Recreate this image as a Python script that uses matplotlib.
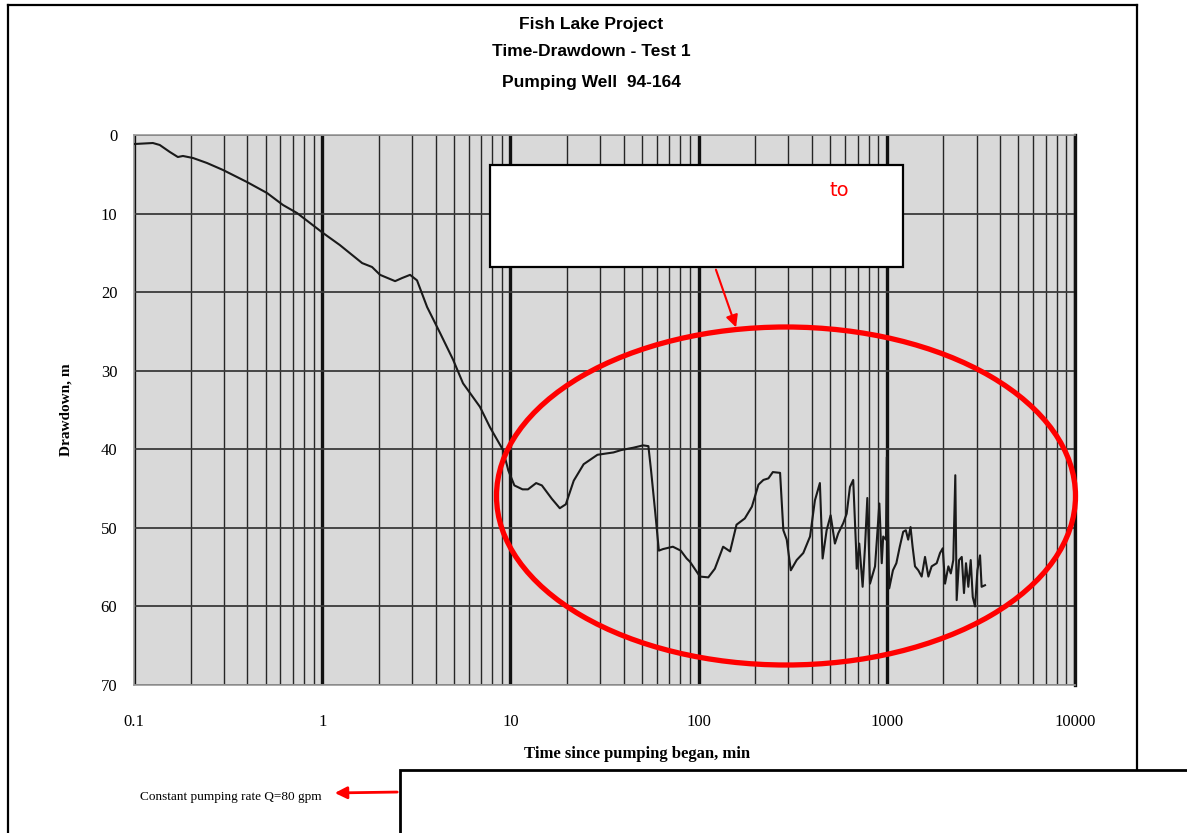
# Time-drawdown plot, Fish Lake Project, pumping well 94-164 (scanned chart with markup)

import matplotlib
matplotlib.use("Agg")
import matplotlib.pyplot as plt
from matplotlib.patches import Rectangle, Ellipse, FancyArrowPatch
from matplotlib.ticker import LogLocator, FixedLocator, NullFormatter

W, H = 1187, 833

TITLE_LINES = ["Fish Lake Project", "Time-Drawdown - Test 1", "Pumping Well  94-164"]
X_TICKS = [0.1, 1, 10, 100, 1000, 10000]
X_TICK_LABELS = ["0.1", "1", "10", "100", "1000", "10000"]
Y_TICKS = [0, 10, 20, 30, 40, 50, 60, 70]

# time since pumping began (min) and drawdown (m)
time_min = [
    0.1, 0.126, 0.137, 0.155, 0.171, 0.182, 0.206, 0.244, 0.297, 0.398,
    0.509, 0.619, 0.735, 1.01, 1.24, 1.63, 1.84, 2.03, 2.44, 2.66,
    2.93, 3.19, 3.61, 4.23, 4.96, 5.60, 6.89, 7.79, 9.14, 9.75,
    10.5, 11.6, 12.4, 13.7, 14.7, 16.6, 18.3, 19.7, 21.7, 24.5,
    29.0, 35.3, 38.8, 45.0, 50.7, 54.1, 55.9, 58.7, 61.5, 64.7,
    73.0, 80.4, 86.4, 89.9, 101.7, 112.6, 122, 135, 147, 159,
    176, 192, 208, 221, 235, 248, 271, 282, 294, 309,
    332, 360, 391, 415, 441, 456, 479, 503, 530, 552,
    587, 612, 637, 663, 686, 692, 714, 744, 766, 788,
    814, 866, 913, 940, 957, 990, 1000, 1030, 1078, 1124,
    1172, 1222, 1262, 1299, 1337, 1371, 1412, 1470, 1532, 1596,
    1663, 1731, 1841, 1918, 1983, 2039, 2124, 2188, 2256, 2312,
    2351, 2421, 2502, 2571, 2635, 2711, 2792, 2862, 2944, 3030,
    3129, 3190, 3325,
]
drawdown_m = [
    1.15, 1.02, 1.27, 2.16, 2.80, 2.67, 2.93, 3.56, 4.45, 5.98,
    7.38, 8.91, 9.93, 12.47, 14.0, 16.3, 16.8, 17.8, 18.6, 18.2,
    17.8, 18.5, 21.9, 25.2, 28.6, 31.6, 34.6, 37.2, 40.1, 42.7,
    44.6, 45.1, 45.1, 44.3, 44.6, 46.3, 47.5, 47.0, 44.0, 41.9,
    40.7, 40.4, 40.1, 39.8, 39.5, 39.6, 42.7, 47.8, 52.9, 52.7,
    52.4, 52.9, 53.9, 54.3, 56.2, 56.3, 55.2, 52.4, 53.0, 49.6,
    48.8, 47.3, 44.5, 43.9, 43.7, 42.9, 43.0, 50.3, 51.5, 55.4,
    54.1, 53.2, 51.1, 46.5, 44.3, 53.9, 50.3, 48.4, 52.0, 50.7,
    49.4, 48.2, 44.8, 43.9, 52.4, 55.2, 52.0, 57.5, 52.4, 46.2,
    57.1, 54.9, 46.9, 54.5, 51.1, 51.5, 41.0, 57.7, 55.4, 54.5,
    52.4, 50.5, 50.3, 51.5, 49.9, 52.4, 54.9, 55.4, 56.2, 53.7,
    56.2, 54.9, 54.5, 53.2, 52.6, 57.1, 54.9, 55.8, 54.1, 43.3,
    59.2, 54.1, 53.7, 58.3, 54.5, 57.5, 54.1, 58.8, 60.0, 55.4,
    53.5, 57.5, 57.3,
]

SERIF = ["Liberation Serif", "DejaVu Serif"]
SANS = ["Liberation Sans", "DejaVu Sans"]


def fx(x):
    return x / W


def fy(y):
    return 1 - y / H


fig = plt.figure(figsize=(W / 100, H / 100), dpi=100)
fig.patch.set_facecolor("white")

ax = fig.add_axes([fx(134), fy(685), fx(1075) - fx(134), fy(135) - fy(685)])
ax.set_facecolor("#d9d9d9")
ax.set_xscale("log")
ax.set_xlim(0.1, 10000)
ax.set_ylim(70, 0)

ax.xaxis.set_major_locator(FixedLocator(X_TICKS))
ax.xaxis.set_minor_locator(LogLocator(base=10, subs=range(2, 10)))
ax.xaxis.set_minor_formatter(NullFormatter())
ax.set_xticks(X_TICKS)
ax.set_xticklabels(X_TICK_LABELS, family=SERIF, fontsize=12)
ax.set_yticks(Y_TICKS)
ax.set_yticklabels([str(v) for v in Y_TICKS], family=SERIF, fontsize=12)
ax.tick_params(which="both", length=0)
ax.tick_params(axis="x", pad=21)
ax.tick_params(axis="y", pad=12)

ax.grid(True, axis="x", which="major", color="#111111", lw=2.4)
ax.grid(True, axis="x", which="minor", color="#262626", lw=1.0)
ax.grid(True, axis="y", which="major", color="#3a3a3a", lw=1.3)
for side in ["top", "bottom", "left"]:
    ax.spines[side].set_color("#999999")
    ax.spines[side].set_linewidth(1.2)
ax.spines["right"].set_color("#111111")
ax.spines["right"].set_linewidth(2.4)

ax.plot(time_min, drawdown_m, color="#1a1a1a", lw=1.5, zorder=3)

ax.set_ylabel("Drawdown, m", family=SERIF, fontsize=11, fontweight="bold",
              labelpad=20)
fig.text(fx(637), fy(754), "Time since pumping began, min", family=SERIF,
         fontsize=12, fontweight="bold", ha="center", va="center")

for i, line in enumerate(TITLE_LINES):
    fig.text(fx(591), fy([25, 52, 82][i]), line, ha="center", va="center",
             family=SANS, fontsize=12.5, fontweight="bold")

fig.text(fx(140), fy(797), "Constant pumping rate Q=80 gpm", family=SERIF,
         fontsize=9.5, ha="left", va="center")

# page frame
frame = dict(color="black", lw=1.6, transform=fig.transFigure, zorder=10)
fig.add_artist(plt.Line2D([fx(8), fx(8)], [fy(5), fy(840)], **frame))
fig.add_artist(plt.Line2D([fx(8), fx(1137)], [fy(5), fy(5)], **frame))
fig.add_artist(plt.Line2D([fx(1137), fx(1137)], [fy(5), fy(770)], **frame))

# markup: white boxes, ellipse and arrows
fig.add_artist(Rectangle((fx(490), fy(267)), fx(903) - fx(490), fy(165) - fy(267),
                         transform=fig.transFigure, facecolor="white",
                         edgecolor="black", lw=1.6, zorder=20))
fig.text(fx(830), fy(190), "to", color="red", fontsize=14, family="DejaVu Sans",
         ha="left", va="center", zorder=21)
fig.add_artist(Rectangle((fx(400), fy(845)), fx(1200) - fx(400), fy(770) - fy(845),
                         transform=fig.transFigure, facecolor="white",
                         edgecolor="black", lw=2, zorder=20))
fig.add_artist(Ellipse((fx(786), fy(496)), fx(579), fy(0) - fy(338),
                       transform=fig.transFigure, facecolor="none",
                       edgecolor="red", lw=3.8, zorder=15))
fig.add_artist(FancyArrowPatch((fx(715), fy(267)), (fx(737), fy(330)),
                               transform=fig.transFigure, arrowstyle="-|>",
                               mutation_scale=18, color="red", lw=1.5, zorder=16))
fig.add_artist(FancyArrowPatch((fx(400), fy(792)), (fx(332), fy(793)),
                               transform=fig.transFigure, arrowstyle="-|>",
                               mutation_scale=18, color="red", lw=2, zorder=16))

fig.savefig("out.png", dpi=100, facecolor="white")
